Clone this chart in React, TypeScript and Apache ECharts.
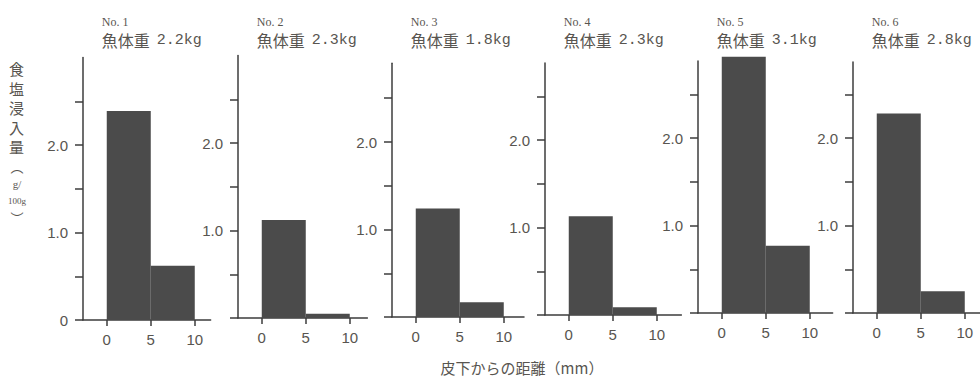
import React, { useEffect, useRef } from "react";
import * as echarts from "echarts";

// ---- data ----
const panelNames = ["No. 1", "No. 2", "No. 3", "No. 4", "No. 5", "No. 6"];
const fishLabel = "魚体重";
const fishWeights = ["2.2kg", "2.3kg", "1.8kg", "2.3kg", "3.1kg", "2.8kg"];
const depthBins = [
  [0, 5],
  [5, 10],
];
const saltInner = [2.39, 1.12, 1.24, 1.13, 2.93, 2.28]; // 0–5 mm
const saltOuter = [0.62, 0.05, 0.17, 0.09, 0.77, 0.25]; // 5–10 mm
const xTickValues = [0, 5, 10];
const yTickValues = [0, 0.5, 1, 1.5, 2, 2.5];
const yLabelValuesFirst = [0, 1, 2];
const yLabelValuesOther = [1, 2];
const yAxisTitleChars = "食\n塩\n浸\n入\n量";
const xAxisTitle = "皮下からの距離（mm）";

// ---- layout ----
const axisX = [83, 238, 392, 545, 698, 853];
const zeroY = [320, 318, 317, 315, 313, 313];
const yMaxes = [3.0, 3.0, 2.9, 2.88, 2.88, 2.87];
const xMaxes = [11.8, 12, 12.3, 12.8, 12.6, 12.5];
const X_MIN = -2.7;
const PX_MM = 8.8;
const PX_UNIT = 87.5;

const TEXT = "#585550";
const AXIS = "#3c3c3c";
const BAR = "#4b4b4b";
const SANS = "'Liberation Sans', Arial, sans-serif";
const SERIF = "'Liberation Serif', 'Noto Sans CJK JP', serif";
const CJK = "'Noto Sans CJK JP', sans-serif";

export default function App() {
  const ref = useRef<HTMLDivElement>(null);

  useEffect(() => {
    if (!ref.current) return;
    const chart = echarts.init(ref.current, undefined, { renderer: "svg" });

    const grids: any[] = [];
    const xAxes: any[] = [];
    const yAxes: any[] = [];
    const series: any[] = [];
    const titles: any[] = [];

    panelNames.forEach((name, i) => {
      const h = yMaxes[i] * PX_UNIT;
      grids.push({
        left: axisX[i],
        top: zeroY[i] - h,
        width: (xMaxes[i] - X_MIN) * PX_MM,
        height: h,
        containLabel: false,
        outerBoundsMode: "none",
      });
      xAxes.push({
        type: "value",
        gridIndex: i,
        min: X_MIN,
        max: xMaxes[i],
        splitLine: { show: false },
        axisLine: { show: true, onZero: false, lineStyle: { color: AXIS, width: 1.5 } },
        axisTick: { show: true, customValues: xTickValues, length: 6, lineStyle: { color: AXIS, width: 1.5 } },
        axisLabel: {
          show: true,
          customValues: xTickValues,
          margin: 12,
          color: TEXT,
          fontSize: 15,
          fontFamily: SANS,
        },
      });
      yAxes.push({
        type: "value",
        gridIndex: i,
        min: 0,
        max: yMaxes[i],
        splitLine: { show: false },
        axisLine: { show: true, onZero: false, lineStyle: { color: AXIS, width: 1.5 } },
        axisTick: { show: true, customValues: yTickValues, length: 8, lineStyle: { color: AXIS, width: 1.5 } },
        axisLabel: {
          show: true,
          customValues: i === 0 ? yLabelValuesFirst : yLabelValuesOther,
          formatter: (v: number) => (v === 0 ? "0" : v.toFixed(1)),
          margin: 15,
          color: TEXT,
          fontSize: 15,
          fontFamily: SANS,
        },
      });
      series.push({
        type: "custom",
        xAxisIndex: i,
        yAxisIndex: i,
        clip: false,
        encode: { x: [0, 1], y: 2 },
        data: [
          [depthBins[0][0], depthBins[0][1], saltInner[i]],
          [depthBins[1][0], depthBins[1][1], saltOuter[i]],
        ],
        renderItem: (_p: any, api: any) => {
          const a = api.coord([api.value(0), api.value(2)]);
          const b = api.coord([api.value(1), 0]);
          return {
            type: "rect",
            shape: { x: a[0], y: a[1], width: b[0] - a[0], height: b[1] - a[1] },
            style: { fill: BAR },
          };
        },
      });
      const x0 = axisX[i] + (0 - X_MIN) * PX_MM;
      titles.push({
        text: name,
        subtext: `{a|${fishLabel}}  {b|${fishWeights[i]}}`,
        left: x0 - 5,
        top: 16,
        padding: 0,
        itemGap: 4,
        textStyle: { fontSize: 12, fontWeight: "normal", color: TEXT, fontFamily: SERIF },
        subtextStyle: {
          fontSize: 14,
          color: TEXT,
          fontFamily: SERIF,
          rich: {
            a: { fontSize: 16, color: TEXT, fontFamily: CJK },
            b: { fontSize: 15, color: TEXT, fontFamily: "'Liberation Mono', monospace" },
          },
        },
      });
    });

    chart.setOption({
      animation: false,
      backgroundColor: "#ffffff",
      title: titles,
      grid: grids,
      xAxis: xAxes,
      yAxis: yAxes,
      series,
      graphic: [
        {
          type: "text",
          left: 9,
          top: 59,
          style: {
            text: yAxisTitleChars,
            fontSize: 15,
            lineHeight: 19.5,
            fill: TEXT,
            fontFamily: CJK,
          },
        },
        {
          type: "text",
          x: 17,
          y: 166,
          style: { text: "︵", fontSize: 13, fill: TEXT, align: "center", verticalAlign: "middle", fontFamily: CJK },
        },
        {
          type: "text",
          x: 17,
          y: 184,
          style: { text: "g/", fontSize: 11, fill: TEXT, align: "center", verticalAlign: "middle", fontFamily: SERIF },
        },
        {
          type: "text",
          x: 17,
          y: 201,
          style: { text: "100g", fontSize: 9, fill: TEXT, align: "center", verticalAlign: "middle", fontFamily: SERIF },
        },
        {
          type: "text",
          x: 17,
          y: 217,
          style: { text: "︶", fontSize: 13, fill: TEXT, align: "center", verticalAlign: "middle", fontFamily: CJK },
        },
        {
          type: "text",
          x: 522,
          y: 367,
          style: {
            text: xAxisTitle,
            fontSize: 15,
            fill: TEXT,
            align: "center",
            verticalAlign: "middle",
            fontFamily: CJK,
          },
        },
      ],
    });

    return () => chart.dispose();
  }, []);

  return (
    <div
      ref={ref}
      style={{ position: "fixed", left: 0, top: 0, width: 980, height: 384 }}
    />
  );
}
